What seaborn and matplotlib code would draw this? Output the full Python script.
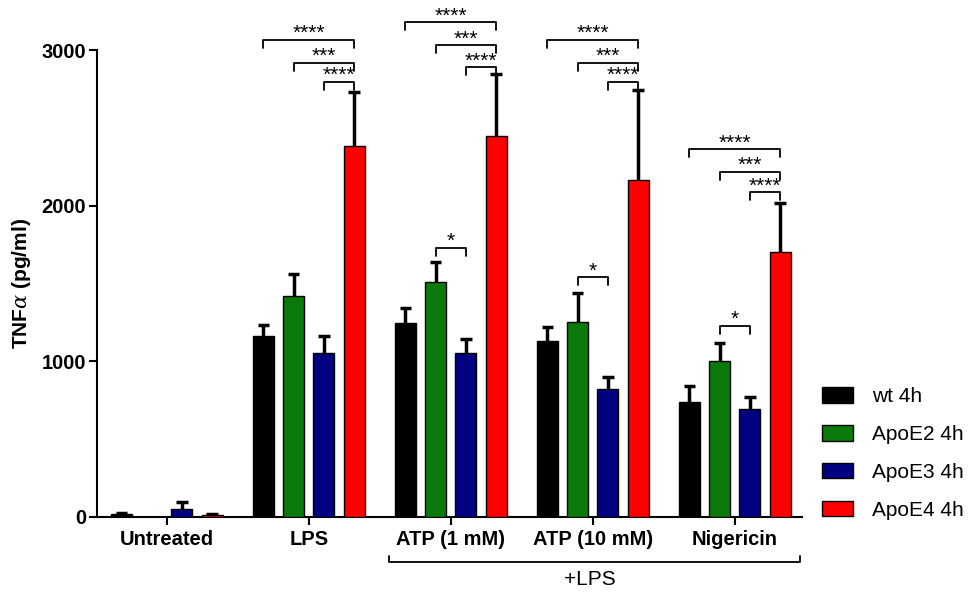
import pandas as pd
import numpy as np
import matplotlib
matplotlib.use('Agg')
import matplotlib.pyplot as plt
import seaborn as sns

# data (mean and upper error)
treatments = ['Untreated', 'LPS', 'ATP (1 mM)', 'ATP (10 mM)', 'Nigericin']
genotypes = ['wt 4h', 'ApoE2 4h', 'ApoE3 4h', 'ApoE4 4h']

wt_mean = [18, 1160, 1246, 1130, 739]
wt_err = [5, 75, 96, 90, 102]
e2_mean = [0, 1419, 1509, 1252, 1002]
e2_err = [0, 141, 129, 187, 116]
e3_mean = [51, 1053, 1053, 822, 694]
e3_err = [45, 109, 90, 77, 77]
e4_mean = [15, 2383, 2447, 2164, 1702]
e4_err = [5, 347, 398, 578, 315]

# significance brackets: (treatment index, genotype a, genotype b, height, label)
sig_brackets = [
    (1, 0, 3, 3064, '****'), (1, 1, 3, 2916, '***'), (1, 2, 3, 2794, '****'),
    (2, 0, 3, 3179, '****'), (2, 1, 3, 3031, '***'), (2, 2, 3, 2890, '****'),
    (2, 1, 2, 1728, '*'),
    (3, 0, 3, 3064, '****'), (3, 1, 3, 2916, '***'), (3, 2, 3, 2794, '****'),
    (3, 1, 2, 1541, '*'),
    (4, 0, 3, 2363, '****'), (4, 1, 3, 2216, '***'), (4, 2, 3, 2087, '****'),
    (4, 1, 2, 1227, '*'),
]

colors = ['#000000', '#0b7a0b', '#000080', '#ff0000']

means = [wt_mean, e2_mean, e3_mean, e4_mean]
errs = [wt_err, e2_err, e3_err, e4_err]
rows = []
for g, m, e in zip(genotypes, means, errs):
    for t, mv, ev in zip(treatments, m, e):
        rows.append({'Treatment': t, 'Genotype': g, 'TNF': mv, 'err': ev})
df = pd.DataFrame(rows)

sns.set_style('ticks')
plt.rcParams['font.family'] = ['Liberation Sans', 'DejaVu Sans']
plt.rcParams['mathtext.fontset'] = 'dejavuserif'
plt.rcParams['text.color'] = 'black'
plt.rcParams['axes.labelcolor'] = 'black'
plt.rcParams['xtick.color'] = 'black'
plt.rcParams['ytick.color'] = 'black'
plt.rcParams['axes.edgecolor'] = 'black'

fig = plt.figure(figsize=(9.77, 5.93), dpi=100)
ax = fig.add_axes([97 / 977, 1 - 517 / 593, (802 - 97) / 977, (517 - 50) / 593])

sns.barplot(data=df, x='Treatment', y='TNF', hue='Genotype', order=treatments,
            hue_order=genotypes, palette=colors, saturation=1, errorbar=None,
            width=0.853, gap=0.31, edgecolor='black', linewidth=1.0, ax=ax,
            zorder=3)

# error bars (upper only) on the bar centres
bar_containers = list(ax.containers)
centers = {}
cap = 0.04
for gi, cont in enumerate(bar_containers):
    for ti, bar in enumerate(cont):
        xc = bar.get_x() + bar.get_width() / 2
        centers[(ti, gi)] = xc
        e = errs[gi][ti]
        h = means[gi][ti]
        if e > 0 and h > 0:
            ax.vlines(xc, h, h + e, color='black', lw=2.5, zorder=2)
            ax.hlines(h + e, xc - cap, xc + cap, color='black', lw=2.5, zorder=2)

ax.set_ylim(0, 3000)
ax.set_xlim(-0.491, 4.474)
ax.set_yticks([0, 1000, 2000, 3000])
ax.set_xlabel('')
ax.set_ylabel(r'TNF$\alpha$ (pg/ml)', fontsize=15, fontweight='bold', labelpad=6)
for lab in ax.get_xticklabels() + ax.get_yticklabels():
    lab.set_fontweight('bold')
ax.tick_params(axis='both', labelsize=14.5, width=1.5, length=6, color='black')
ax.tick_params(axis='y', pad=2)
for s in ['left', 'bottom']:
    ax.spines[s].set_linewidth(1.5)
sns.despine(ax=ax)

# significance brackets
drop = 50
for ti, a, b, y, txt in sig_brackets:
    x1 = centers[(ti, a)]
    x2 = centers[(ti, b)]
    ax.plot([x1, x1, x2, x2], [y - drop, y, y, y - drop], color='black',
            lw=1.3, clip_on=False, zorder=4)
    ax.text((x1 + x2) / 2, y + 5, txt, ha='center', va='baseline',
            fontsize=15, clip_on=False)

# +LPS bracket below the axis
trans = ax.get_xaxis_transform()
lx1, lx2 = 1.565, 4.46
ax.plot([lx1, lx1, lx2, lx2], [-0.083, -0.096, -0.096, -0.083], color='black',
        lw=1.3, transform=trans, clip_on=False)
ax.text(2.98, -0.113, '+LPS', ha='center', va='top', fontsize=15,
        transform=trans)

sns.move_legend(ax, 'upper left', bbox_to_anchor=(822 / 977, 1 - 387 / 593),
                bbox_transform=fig.transFigure, frameon=False, title=None,
                fontsize=15, labelspacing=0.91, handlelength=1.49,
                handleheight=0.77, handletextpad=0.91, borderpad=0,
                borderaxespad=0)

fig.savefig('out.png', dpi=100)
